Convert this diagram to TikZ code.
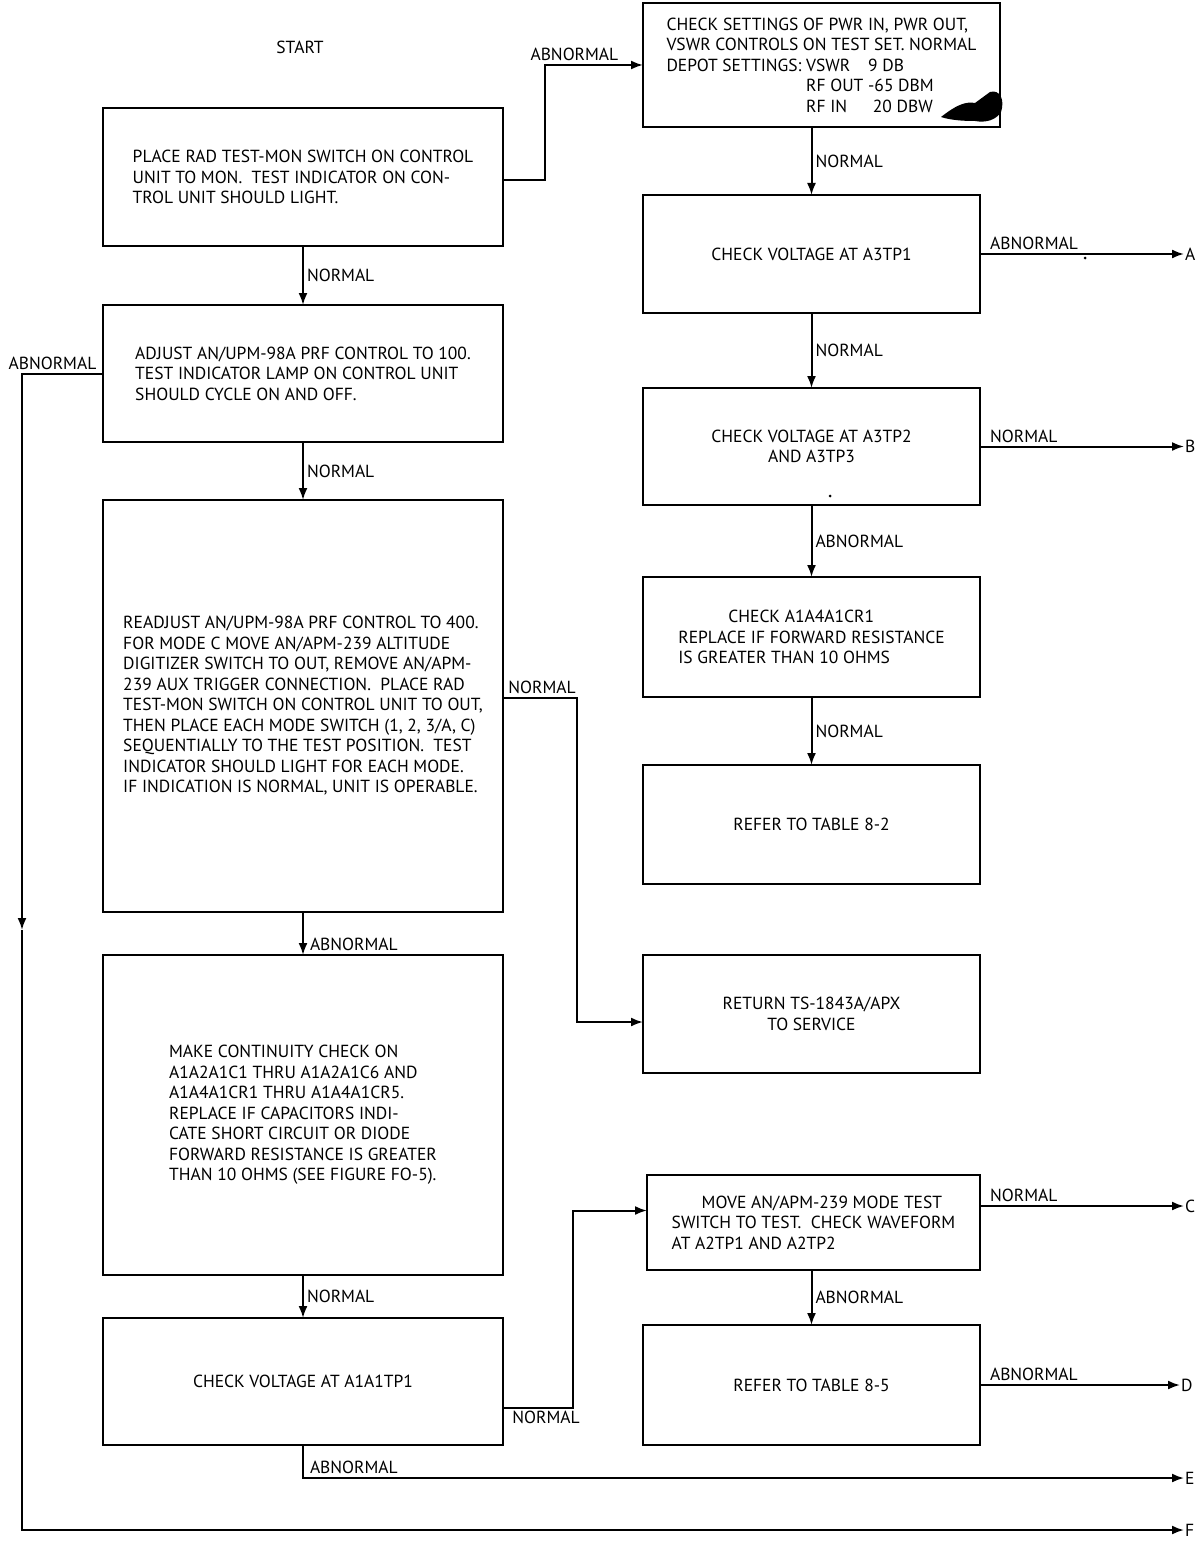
\documentclass[tikz,border=0pt]{standalone}
\usepackage{fontspec}
\setmainfont{PT Sans}
\usetikzlibrary{positioning, arrows.meta}
\newcommand{\boxfont}{\fontsize{17.5}{20.5}\selectfont}
\newcommand{\tagfont}{\fontsize{17.5}{19}\selectfont}
\tikzset{
  % Troubleshooting chart
  stepbox/.style  = { draw, line width=2.2pt, minimum width=400pt, inner sep=0pt,
                      outer sep=0pt, align=left, font=\boxfont },
  rstepbox/.style = { stepbox, minimum width=337pt },
  stepflow/.style = { line width=2pt, -{Latex[length=12pt, width=9pt]} },
  steplabel/.style= { font=\tagfont, inner sep=3pt },
  outlabel/.style = { font=\tagfont, inner sep=1pt }
}
\begin{document}
\begin{tikzpicture}[x=1pt, y=1pt]
  \useasboundingbox (0,0) rectangle (1203,-1541);

  % left column
  \node[steplabel] (start) at (300,-47) {START};
  \node[stepbox, minimum height=138pt, anchor=north] (place) at (303,-108)
    {PLACE RAD TEST-MON SWITCH ON CONTROL\\UNIT TO MON.\ \ TEST INDICATOR ON CON-\\TROL UNIT SHOULD LIGHT.};
  \node[stepbox, minimum height=137pt, below=59pt of place] (adjust)
    {ADJUST AN/UPM-98A PRF CONTROL TO 100.\\TEST INDICATOR LAMP ON CONTROL UNIT\\SHOULD CYCLE ON AND OFF.};
  \node[stepbox, minimum height=412pt, below=58pt of adjust] (readjust)
    {READJUST AN/UPM-98A PRF CONTROL TO 400.\\FOR MODE C MOVE AN/APM-239 ALTITUDE\\DIGITIZER SWITCH TO OUT, REMOVE AN/APM-\\239 AUX TRIGGER CONNECTION.\ \ PLACE RAD\\TEST-MON SWITCH ON CONTROL UNIT TO OUT,\\THEN PLACE EACH MODE SWITCH (1, 2, 3/A, C)\\SEQUENTIALLY TO THE TEST POSITION.\ \ TEST\\INDICATOR SHOULD LIGHT FOR EACH MODE.\\IF INDICATION IS NORMAL, UNIT IS OPERABLE.};
  \node[stepbox, minimum height=320pt, below=43pt of readjust] (contcheck)
    {MAKE CONTINUITY CHECK ON\\A1A2A1C1 THRU A1A2A1C6 AND\\A1A4A1CR1 THRU A1A4A1CR5.\\REPLACE IF CAPACITORS INDI-\\CATE SHORT CIRCUIT OR DIODE\\FORWARD RESISTANCE IS GREATER\\THAN 10 OHMS (SEE FIGURE FO-5).};
  \node[stepbox, minimum height=127pt, below=43pt of contcheck] (volta)
    {CHECK VOLTAGE AT A1A1TP1};

  % right column
  \node[rstepbox, minimum width=357pt, minimum height=124pt, anchor=north] (settings) at (821.5,-3)
    {CHECK SETTINGS OF PWR IN, PWR OUT,\\VSWR CONTROLS ON TEST SET. NORMAL\\DEPOT SETTINGS: \makebox[62pt][l]{VSWR}9 DB\\
     \phantom{DEPOT SETTINGS: }\makebox[62pt][l]{RF OUT}-65 DBM\\
     \phantom{DEPOT SETTINGS: }\makebox[62pt][l]{RF IN}\ 20 DBW};
  \node[rstepbox, align=center, minimum height=118pt, below=68pt of settings, xshift=-10pt] (tpone)
    {CHECK VOLTAGE AT A3TP1};
  \node[rstepbox, align=center, minimum height=117pt, below=75pt of tpone] (tptwo)
    {CHECK VOLTAGE AT A3TP2\\AND A3TP3};
  \node[rstepbox, minimum height=120pt, below=72pt of tptwo] (crone)
    {\hspace*{50pt}CHECK A1A4A1CR1\\REPLACE IF FORWARD RESISTANCE\\IS GREATER THAN 10 OHMS};
  \node[rstepbox, align=center, minimum height=119pt, below=68pt of crone] (tabletwo)
    {REFER TO TABLE 8-2};
  \node[rstepbox, align=center, minimum height=118pt, below=71pt of tabletwo] (service)
    {RETURN TS-1843A/APX\\TO SERVICE};
  \node[rstepbox, minimum width=333pt, minimum height=95pt, below=102pt of service, xshift=2pt] (modetest)
    {\hspace*{30pt}MOVE AN/APM-239 MODE TEST\\SWITCH TO TEST.\ \ CHECK WAVEFORM\\AT A2TP1 AND A2TP2};
  \node[rstepbox, align=center, minimum height=120pt, below=55pt of modetest, xshift=-2pt] (tablefive)
    {REFER TO TABLE 8-5};

  % exits
  \node[outlabel, right=204pt of tpone] (outA) {A};
  \node[outlabel, right=204pt of tptwo] (outB) {B};
  \node[outlabel, anchor=west] (outC) at (1184,-1206) {C};
  \node[outlabel, right=200pt of tablefive] (outD) {D};
  \node[outlabel, anchor=west] (outE) at (1184,-1478) {E};
  \node[outlabel, anchor=west] (outF) at (1184,-1530) {F};
  \coordinate (fdown) at (22,-930);

  % left flow
  \draw[stepflow] (place) -- node[steplabel, right]{NORMAL} (adjust);
  \draw[stepflow] (adjust) -- node[steplabel, right]{NORMAL} (readjust);
  \draw[stepflow] (readjust) -- node[steplabel, right, pos=0.75, xshift=3pt]{ABNORMAL} (contcheck);
  \draw[stepflow] (contcheck) -- node[steplabel, right]{NORMAL} (volta);
  \draw[stepflow] (volta.south) |- node[steplabel, anchor=south west, pos=0.5, xshift=3pt]{ABNORMAL} (outE);
  \draw[stepflow] (adjust.west) -- node[steplabel, above, xshift=-10pt]{ABNORMAL} (adjust.west -| fdown) -- (fdown);
  \draw[stepflow] (fdown) |- (outF);

  % cross flow
  \draw[stepflow] ([yshift=-3pt]place.east) -- ++(42,0) |- node[steplabel, above, pos=0.65]{ABNORMAL} (settings.west);
  \draw[stepflow] ([yshift=8pt]readjust.east) -- node[steplabel, above, xshift=2pt]{NORMAL} ++(74,0) |- ([yshift=-8pt]service.west);
  \draw[stepflow] ([yshift=-26pt]volta.east) -- node[steplabel, below, xshift=8pt]{NORMAL} ++(70,0) |- ([yshift=12pt]modetest.west);

  % right flow
  \draw[stepflow] (settings.south -| tpone) -- node[steplabel, right]{NORMAL} (tpone);
  \draw[stepflow] (tpone) -- node[steplabel, right]{NORMAL} (tptwo);
  \draw[stepflow] (tptwo) -- node[steplabel, right]{ABNORMAL} (crone);
  \draw[stepflow] (crone) -- node[steplabel, right]{NORMAL} (tabletwo);
  \draw[stepflow] (modetest.south -| tablefive) -- node[steplabel, right]{ABNORMAL} (tablefive);
  \draw[stepflow] (tpone) -- node[steplabel, anchor=south west, pos=0.03]{ABNORMAL} (outA);
  \draw[stepflow] (tptwo) -- node[steplabel, anchor=south west, pos=0.03]{NORMAL} (outB);
  \draw[stepflow] (modetest.east |- outC) -- node[steplabel, anchor=south west, pos=0.03]{NORMAL} (outC);
  \draw[stepflow] (tablefive) -- node[steplabel, anchor=south west, pos=0.03]{ABNORMAL} (outD);

  % blot and specks
  \fill (941,-117) .. controls (955,-106) and (965,-101) .. (975,-103)
    -- (990,-92) .. controls (1000,-89) and (1005,-100) .. (1001,-112)
    .. controls (996,-120) and (986,-123) .. (975,-121)
    .. controls (962,-121) and (950,-120) .. (941,-117) -- cycle;
  \fill (1085,-258) circle (1.5pt);
  \fill (830,-496) circle (1.5pt);
\end{tikzpicture}
\end{document}
